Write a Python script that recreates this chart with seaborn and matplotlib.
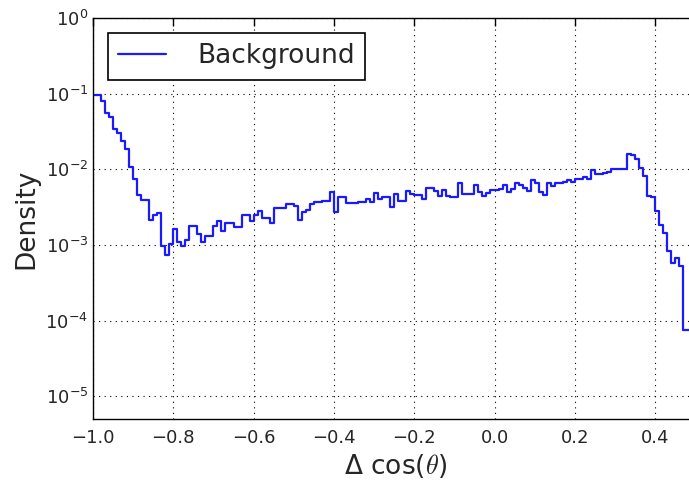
import numpy as np
import pandas as pd
import matplotlib
matplotlib.use("Agg")
import matplotlib.pyplot as plt
import seaborn as sns

# ---- data ----
bin_lo = -1.0
bin_hi = 0.49
density = [
    0.095, 0.095, 0.080, 0.056, 0.049, 0.034, 0.030, 0.024, 0.0185, 0.0108,
    0.0075, 0.0046, 0.0039, 0.0039, 0.00216, 0.00246, 0.00263, 0.00096, 0.00073, 0.00104,
    0.00164, 0.0011, 0.00096, 0.00117, 0.00176, 0.0018, 0.0014, 0.00108, 0.00133, 0.00133,
    0.0018, 0.00205, 0.00151, 0.00193, 0.00193, 0.00174, 0.00174, 0.00248, 0.00248, 0.00209,
    0.00248, 0.00283, 0.00226, 0.00226, 0.00193, 0.00307, 0.00307, 0.00307, 0.00347, 0.00347,
    0.0033, 0.00216, 0.00269, 0.00292, 0.00353, 0.00372, 0.00372, 0.00383, 0.00383, 0.0050,
    0.00275, 0.00424, 0.00424, 0.00357, 0.00357, 0.00357, 0.00372, 0.00372, 0.00403, 0.00364,
    0.00483, 0.00403, 0.00436, 0.00428, 0.00316, 0.00473, 0.00379, 0.00379, 0.00523, 0.00473,
    0.00455, 0.00464, 0.00411, 0.00568, 0.00568, 0.00523, 0.00441, 0.0054, 0.00441, 0.00428,
    0.00428, 0.00668, 0.00473, 0.00473, 0.00473, 0.00617, 0.00503, 0.00441, 0.0049, 0.0054,
    0.0054, 0.0055, 0.00628, 0.00503, 0.0055, 0.0066, 0.00628, 0.0057, 0.00513, 0.00716,
    0.0066, 0.00503, 0.00464, 0.0066, 0.0061, 0.0066, 0.0066, 0.00681, 0.0073, 0.00681,
    0.00746, 0.00746, 0.00793, 0.00746, 0.0097, 0.0086, 0.0086, 0.0089, 0.0092, 0.0100,
    0.0100, 0.0100, 0.0102, 0.0157, 0.0153, 0.0135, 0.0105, 0.0082, 0.00446, 0.00432,
    0.00283, 0.00183, 0.00142, 0.00082, 0.00058, 0.00067, 0.00052, 7.5e-5, 7.5e-5,
]
series_label = "Background"
x_label = "Δ cos($\\theta$)"
y_label = "Density"
x_ticks = [-1.0, -0.8, -0.6, -0.4, -0.2, 0.0, 0.2, 0.4]
x_view_hi = 0.51

n_bins = len(density)
edges = np.linspace(bin_lo, bin_hi, n_bins + 1)
centers = 0.5 * (edges[:-1] + edges[1:])
df = pd.DataFrame({"dcos": centers, "density": density})

# ---- style ----
sns.set_style("white")
plt.rcParams.update({
    "font.family": ["DejaVu Sans"],
    "mathtext.fontset": "dejavusans",
    "xtick.direction": "in",
    "ytick.direction": "in",
    "xtick.top": True,
    "ytick.right": True,
    "axes.edgecolor": "black",
    "axes.linewidth": 1.0,
})

fig = plt.figure(figsize=(6.89, 4.80), dpi=100)
ax_w_px = (x_view_hi - bin_lo) * 401.5
ax = fig.add_axes([93 / 689, 1 - 419 / 480, ax_w_px / 689, 401 / 480])

sns.histplot(data=df, x="dcos", weights="density", bins=n_bins,
             binrange=(bin_lo, bin_hi),
             element="step", fill=False, color="#1a1aff", linewidth=1.6,
             label=series_label, ax=ax)

ax.set_yscale("log")
ax.set_xlim(bin_lo, x_view_hi)
ax.set_ylim(5e-6, 1.0)
ax.set_xticks(x_ticks)
ax.set_xticklabels([f"{t:.1f}".replace("-", "\u2212") for t in x_ticks])

ax.grid(True, which="major", linestyle=(0, (1, 4)), color="black", linewidth=0.8)
ax.tick_params(axis="both", which="major", length=6, width=1, labelsize=13, color="black")
ax.tick_params(axis="both", which="minor", length=3, width=0.8, color="black")
ax.tick_params(axis="x", which="minor", bottom=False, top=False)
ax.tick_params(axis="x", pad=7)

ax.set_xlabel(x_label, fontsize=19, math_fontfamily="cm")
ax.set_ylabel(y_label, fontsize=19)

leg = ax.legend(loc="upper left", fontsize=19, fancybox=False, framealpha=1,
                edgecolor="black", handlelength=1.8, handletextpad=1.2,
                borderpad=0.4, borderaxespad=0.55)
leg.get_frame().set_linewidth(1.2)

fig.savefig("out.png", dpi=100)
